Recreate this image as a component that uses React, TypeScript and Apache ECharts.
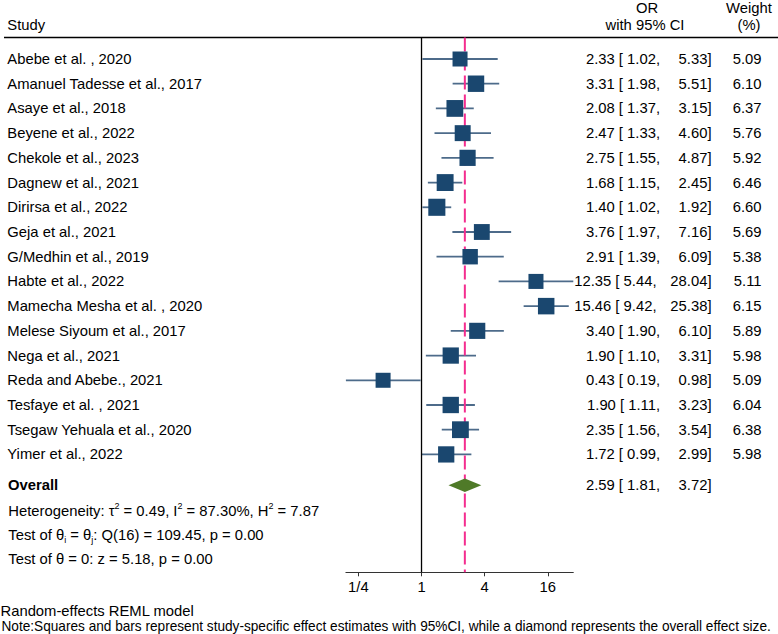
import React, { useEffect, useRef } from "react";
import * as echarts from "echarts";

const studies = [
  "Abebe et al. , 2020",
  "Amanuel Tadesse et al., 2017",
  "Asaye et al., 2018",
  "Beyene et al., 2022",
  "Chekole et al., 2023",
  "Dagnew et al., 2021",
  "Dirirsa et al., 2022",
  "Geja et al., 2021",
  "G/Medhin et al., 2019",
  "Habte et al., 2022",
  "Mamecha Mesha et al. , 2020",
  "Melese Siyoum et al., 2017",
  "Nega et al., 2021",
  "Reda and Abebe., 2021",
  "Tesfaye et al. , 2021",
  "Tsegaw Yehuala et al., 2020",
  "Yimer et al., 2022",
];
const oddsRatios = [2.33, 3.31, 2.08, 2.47, 2.75, 1.68, 1.4, 3.76, 2.91, 12.35, 15.46, 3.4, 1.9, 0.43, 1.9, 2.35, 1.72];
const lowerCI = [1.02, 1.98, 1.37, 1.33, 1.55, 1.15, 1.02, 1.97, 1.39, 5.44, 9.42, 1.9, 1.1, 0.19, 1.11, 1.56, 0.99];
const upperCI = [5.33, 5.51, 3.15, 4.6, 4.87, 2.45, 1.92, 7.16, 6.09, 28.04, 25.38, 6.1, 3.31, 0.98, 3.23, 3.54, 2.99];
const weights = [5.09, 6.1, 6.37, 5.76, 5.92, 6.46, 6.6, 5.69, 5.38, 5.11, 6.15, 5.89, 5.98, 5.09, 6.04, 6.38, 5.98];
const overallOR = [2.59];
const overallLower = [1.81];
const overallUpper = [3.72];
const tickValues = [0.25, 1, 4, 16];
const tickLabels = ["1/4", "1", "4", "16"];
const statLines = [
  "Heterogeneity: τ{sup|2} = 0.49, I{sup|2} = 87.30%, H{sup|2} = 7.87",
  "Test of θ{sub|i} = θ{sub|j}: Q(16) = 109.45, p = 0.00",
  "Test of θ = 0: z = 5.18, p = 0.00",
];
const modelNote = "Random-effects REML model";
const footNote =
  "Note:Squares and bars represent study-specific effect estimates with 95%CI, while a diamond represents the overall effect size.";

const L2 = (v: number) => Math.log2(v);
const ROW_OVERALL = 17.25;
const STAT_ROWS = [18.27, 19.27, 20.25];
const Y_MIN = -0.87;
const Y_MAX = 20.77;
const FONT = "'Liberation Sans', Arial, Helvetica, sans-serif";
const FS = 14.8;
const NAVY = "#1a476f";
const BAR = "#4d6b8a";
const PINK = "#f42d8f";
const GREEN = "#4f7a28";

const txt = (x: number, y: number, text: string, align: string, extra: any = {}) => ({
  type: "text",
  x,
  y,
  style: {
    text,
    fontSize: FS,
    fontFamily: FONT,
    fill: "#000",
    align,
    textAlign: align,
    verticalAlign: "middle",
    textVerticalAlign: "middle",
    ...extra,
  },
});

function measure(text: string, size: number) {
  const c = document.createElement("canvas").getContext("2d");
  if (!c) return 0;
  c.font = `${size}px 'Liberation Sans', Arial, sans-serif`;
  return c.measureText(text).width;
}

export default function App() {
  const ref = useRef<HTMLDivElement>(null);
  useEffect(() => {
    document.body.style.margin = "0";
    if (!ref.current) return;
    const chart = echarts.init(ref.current, null, { renderer: "svg" });

    const studyData = studies.map((_, i) => [
      L2(oddsRatios[i]),
      i,
      L2(lowerCI[i]),
      L2(upperCI[i]),
      weights[i],
    ]);
    const ciText = (o: number, lo: number, up: number) => ({
      left: `${o.toFixed(2)} [ ${lo.toFixed(2)},`,
      right: `${up.toFixed(2)}]`,
      shift: up >= 10 ? 656.5 : 660,
    });

    const noteW = measure(footNote, FS);
    const noteScale = noteW > 0 ? 770 / noteW : 0.85;

    const option: any = {
      animation: false,
      grid: { left: 345.9, width: 227.4, top: 37.5, bottom: 61.7, containLabel: false },
      xAxis: {
        type: "value",
        min: L2(0.19),
        max: L2(28.04),
        axisLine: { show: true, onZero: false, lineStyle: { color: "#333", width: 1 } },
        axisTick: {
          show: true,
          length: 4,
          customValues: tickValues.map(L2),
          lineStyle: { color: "#333", width: 1 },
        },
        axisLabel: {
          show: true,
          customValues: tickValues.map(L2),
          margin: 7,
          fontSize: FS,
          fontFamily: FONT,
          color: "#000",
          formatter: (v: number) => {
            const idx = tickValues.findIndex((t) => Math.abs(L2(t) - v) < 1e-6);
            return idx >= 0 ? tickLabels[idx] : "";
          },
        },
        splitLine: { show: false },
      },
      yAxis: {
        type: "value",
        inverse: true,
        min: Y_MIN,
        max: Y_MAX,
        show: false,
        axisLine: { onZero: false },
        splitLine: { show: false },
      },
      graphic: [
        {
          type: "line",
          shape: { x1: 4, y1: 37.5, x2: 778, y2: 37.5 },
          style: { stroke: "#000", lineWidth: 1.4 },
        },
        txt(7.3, 25, "Study", "left"),
        txt(647, 8, "OR", "center"),
        txt(645, 25, "with 95% CI", "center"),
        txt(749, 8, "Weight", "center"),
        txt(749, 25, "(%)", "center"),
        txt(0.5, 610.5, modelNote, "left"),
        { ...txt(1.5, 625.8, footNote, "left"), scaleX: noteScale },
      ],
      series: [
        {
          type: "custom",
          name: "ci",
          data: studyData,
          silent: true,
          renderItem: (params: any, api: any) => {
            const y = api.coord([0, api.value(1)])[1];
            const x1 = api.coord([api.value(2), 0])[0];
            const x2 = api.coord([api.value(3), 0])[0];
            return {
              type: "line",
              shape: { x1, y1: y, x2, y2: y },
              style: { stroke: BAR, lineWidth: 1.8 },
            };
          },
        },
        {
          type: "custom",
          name: "refLines",
          data: [
            [0, 0],
            [L2(overallOR[0]), 0],
          ],
          silent: true,
          renderItem: (params: any, api: any) => {
            const x = api.coord([api.value(0), 0])[0];
            const cs = params.coordSys;
            const solid = params.dataIndex === 0;
            return {
              type: "line",
              shape: { x1: x, y1: cs.y, x2: x, y2: cs.y + cs.height },
              style: solid
                ? { stroke: "#000", lineWidth: 1.3 }
                : { stroke: PINK, lineWidth: 2, lineDash: [14, 5] },
            };
          },
        },
        {
          type: "custom",
          name: "squares",
          data: studyData,
          silent: true,
          renderItem: (params: any, api: any) => {
            const [cx, cy] = api.coord([api.value(0), api.value(1)]);
            const side = 6.65 * Math.sqrt(api.value(4));
            return {
              type: "rect",
              shape: { x: cx - side / 2, y: cy - side / 2, width: side, height: side },
              style: { fill: NAVY },
            };
          },
        },
        {
          type: "custom",
          name: "overall",
          data: [[L2(overallOR[0]), ROW_OVERALL, L2(overallLower[0]), L2(overallUpper[0])]],
          silent: true,
          renderItem: (params: any, api: any) => {
            const [cx, cy] = api.coord([api.value(0), api.value(1)]);
            const xl = api.coord([api.value(2), 0])[0];
            const xu = api.coord([api.value(3), 0])[0];
            const h = 6.7;
            return {
              type: "polygon",
              shape: {
                points: [
                  [xl, cy],
                  [cx, cy - h],
                  [xu, cy],
                  [cx, cy + h],
                ],
              },
              style: { fill: GREEN },
            };
          },
        },
        {
          type: "custom",
          name: "studyText",
          data: studyData,
          silent: true,
          renderItem: (params: any, api: any) => {
            const i = params.dataIndex;
            const y = api.coord([0, api.value(1)])[1];
            const ci = ciText(oddsRatios[i], lowerCI[i], upperCI[i]);
            return {
              type: "group",
              children: [
                txt(7.3, y, studies[i], "left"),
                txt(ci.shift, y, ci.left, "right"),
                txt(711.5, y, ci.right, "right"),
                txt(761.5, y, weights[i].toFixed(2), "right"),
              ],
            };
          },
        },
        {
          type: "custom",
          name: "overallText",
          data: [[0, ROW_OVERALL]],
          silent: true,
          renderItem: (params: any, api: any) => {
            const y = api.coord([0, api.value(1)])[1];
            const ci = ciText(overallOR[0], overallLower[0], overallUpper[0]);
            return {
              type: "group",
              children: [
                txt(8, y, "Overall", "left", { fontWeight: "bold" }),
                txt(ci.shift, y, ci.left, "right"),
                txt(711.5, y, ci.right, "right"),
              ],
            };
          },
        },
        {
          type: "custom",
          name: "stats",
          data: STAT_ROWS.map((r) => [0, r]),
          silent: true,
          renderItem: (params: any, api: any) => {
            const y = api.coord([0, api.value(1)])[1];
            return txt(8.3, y, statLines[params.dataIndex], "left", {
              lineHeight: 18,
              rich: {
                sup: { fontSize: 9, lineHeight: 10, verticalAlign: "top", fontFamily: FONT, fill: "#000" },
                sub: { fontSize: 9, lineHeight: 10, verticalAlign: "bottom", fontFamily: FONT, fill: "#000" },
              },
            });
          },
        },
      ],
    };
    chart.setOption(option);
    return () => chart.dispose();
  }, []);
  return <div ref={ref} style={{ width: 778, height: 634 }} />;
}
